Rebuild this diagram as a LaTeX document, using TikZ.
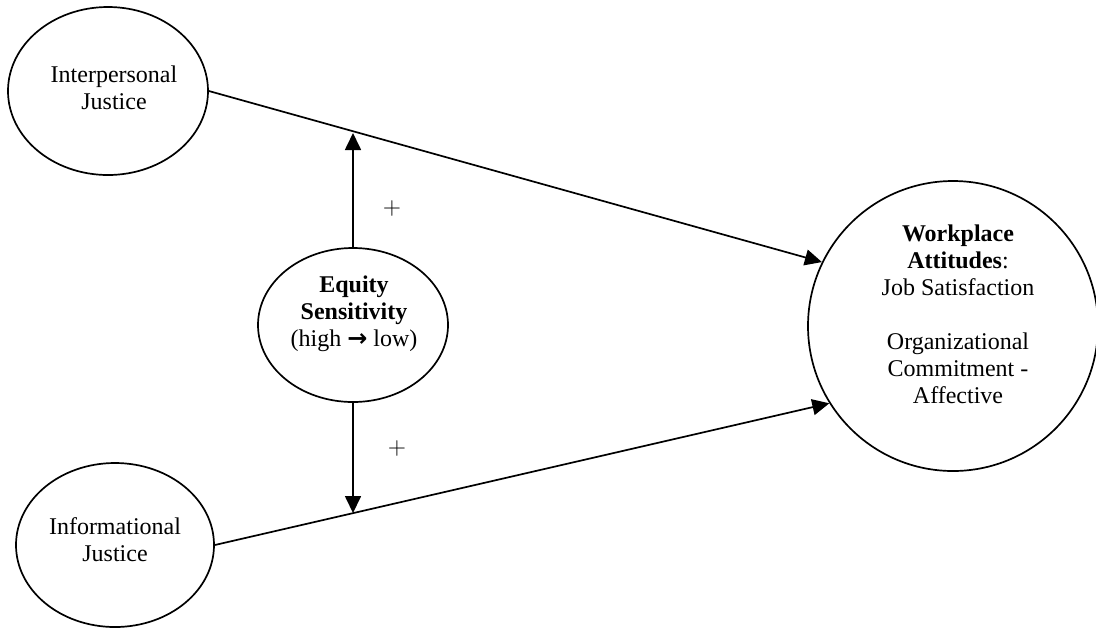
\documentclass[tikz,border=0pt]{standalone}
\usepackage{fontspec}
\setmainfont{Liberation Serif}
\newfontfamily\arrowfont{DejaVu Sans}
\usetikzlibrary{arrows.meta,shapes.geometric}
\begin{document}
\begin{tikzpicture}[x=0.5pt,y=-0.5pt,line width=0.85pt,
        font=\fontsize{12}{13.5}\selectfont,
        blob/.style={draw,ellipse,inner sep=0pt},
        words/.style={align=center,inner sep=0pt},
        tip/.style={-{Triangle[length=8.5pt,width=8pt]}}]
        \useasboundingbox (0,0) rectangle (1096,628);
        \node[blob,minimum width=100pt,minimum height=84pt] (inter) at (108,91) {};
        \node[blob,minimum width=99pt,minimum height=82pt] (info) at (115,545) {};
        \node[blob,minimum width=95pt,minimum height=77pt] (equity) at (353,325) {};
        \node[draw,circle,inner sep=0pt,minimum size=145pt] (attitudes) at (953,326) {};
        \node[words] (intertext) at (114,88) {Interpersonal\\Justice};
        \node[words] (infotext) at (115,540) {Informational\\Justice};
        \node[words] (equitytext) at (354,314) {\textbf{Equity}\\\textbf{Sensitivity}\\(high {\arrowfont\bfseries →} low)};
        \node[words] (attitudestext) at (958,314) {\textbf{Workplace}\\\textbf{Attitudes}:\\Job Satisfaction\\[13.5pt]Organizational\\Commitment -\\Affective};
        \coordinate (upmeet) at (353,133);
        \coordinate (downmeet) at (353,513);
        \draw[tip] (inter.east) -- (attitudes.154);
        \draw[tip] (info.east) -- (attitudes.212);
        \draw[tip] (equity.north) -- (upmeet);
        \draw[tip] (equity.south) -- (downmeet);
        \node (upsign) at (392,208) {$+$};
        \node (downsign) at (397,448) {$+$};
    \end{tikzpicture}
\end{document}
